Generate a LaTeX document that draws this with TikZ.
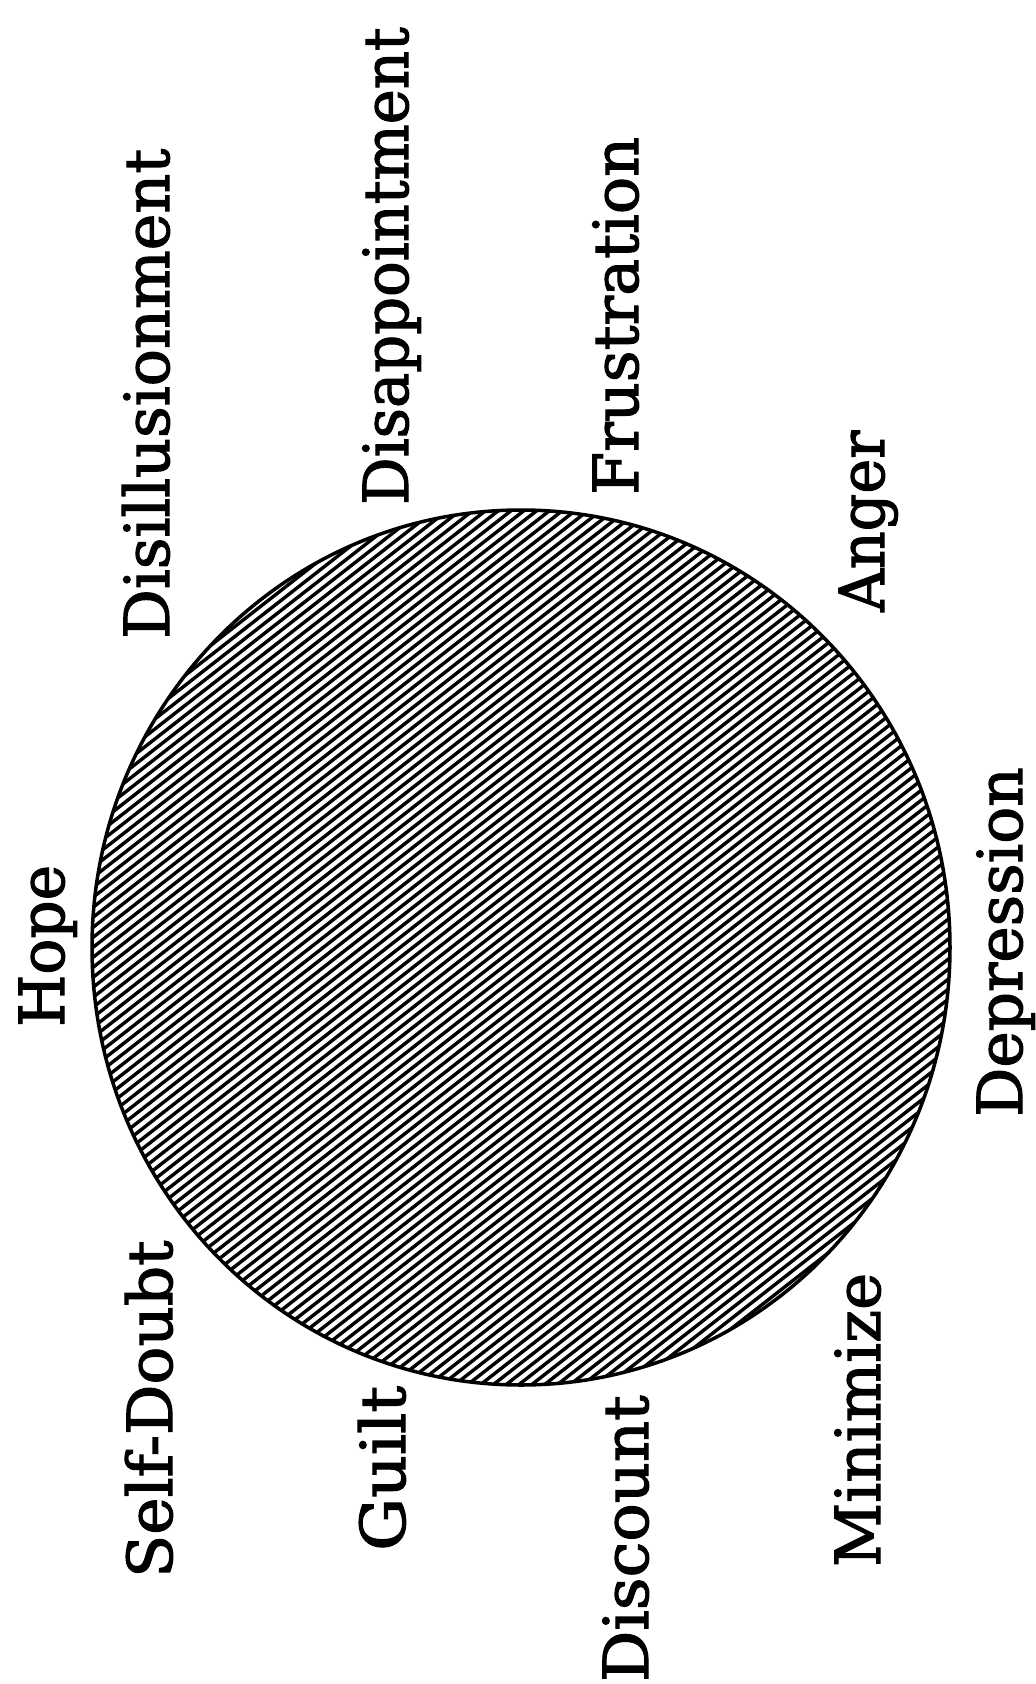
\documentclass[tikz,border=0pt]{standalone}
\usepackage{fontspec}
\usepackage{graphicx}
\setmainfont{DejaVu Serif}
\newfontfamily\lblfont[FakeBold=1.8]{DejaVu Serif}
\usetikzlibrary{shapes.geometric}
\newcommand{\wscale}[2]{\scalebox{#1}[1]{#2}}
\begin{document}
\begin{tikzpicture}[x=1pt,y=-1pt,
  lbl/.style={anchor=base west,rotate=90,inner sep=0pt,font=\lblfont\fontsize{62}{68}\selectfont},
  hatchline/.style={line width=3.4pt},
  rim/.style={line width=3.5pt}]
\useasboundingbox[fill=white] (0,0) rectangle (1036,1684);
\begin{scope}
  \clip (521,947.5) ellipse [x radius=429, y radius=437.5];
  \foreach \c in {580,590,...,2140} {
    \draw[hatchline] (0,\c) -- (1036,\c-809.4);
  }
\end{scope}
\node[draw,rim,ellipse,minimum width=858pt,minimum height=875pt,inner sep=0pt] (circ) at (521,947.5) {};
\node[lbl] (disil) at (169,639) {Disillusionment};
\node[lbl] (disap) at (408,505) {\wscale{0.955}{Disappointment}};
\node[lbl] (frus) at (638,495) {Frustration};
\node[lbl] (anger) at (884,612) {\wscale{0.95}{Anger}};
\node[lbl] (hope) at (64,1027) {\wscale{0.965}{Hope}};
\node[lbl] (selfd) at (172,1578) {\wscale{1.015}{Self-Doubt}};
\node[lbl] (guilt) at (405,1551) {\wscale{1.07}{Guilt}};
\node[lbl] (disc) at (648,1682) {\wscale{1.03}{Discount}};
\node[lbl] (mini) at (880,1567) {\wscale{1.01}{Minimize}};
\node[lbl] (depr) at (1022,1117) {\wscale{0.99}{Depression}};
\end{tikzpicture}
\end{document}
